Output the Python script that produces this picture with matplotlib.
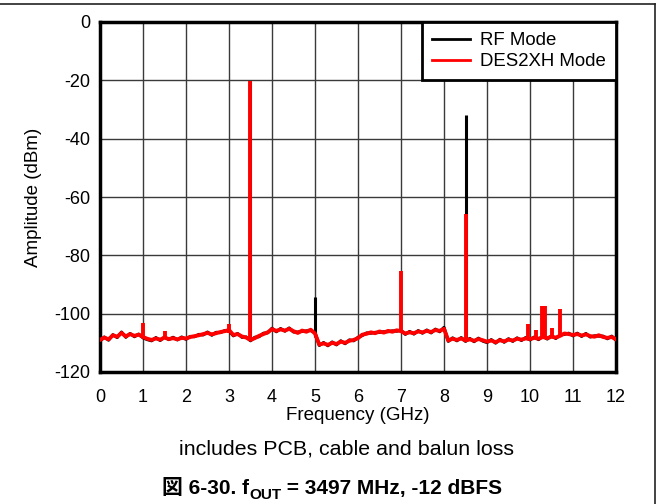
import numpy as np
import matplotlib
matplotlib.use("Agg")
import matplotlib.pyplot as plt
from matplotlib.lines import Line2D

plt.rcParams['font.family'] = ['Liberation Sans', 'Noto Sans CJK JP', 'DejaVu Sans']
plt.rcParams['axes.unicode_minus'] = False

# ---- data ----
freq_noise = np.linspace(0, 12, 121)  # GHz, 0.1 GHz steps

des2xh_noise = [
    -109.0, -108.2, -108.8, -107.4, -107.9, -106.6, -107.8, -107.0, -107.6, -107.2,
    -108.0, -108.6, -109.0, -108.5, -108.9, -108.2, -108.7, -108.4, -108.8, -108.3,
    -108.5, -108.0, -107.7, -107.4, -107.0, -106.6, -107.1, -106.7, -106.3, -106.0,
    -105.6, -107.3, -107.0, -107.8, -108.2, -109.0, -108.4, -107.6, -107.0, -106.4,
    -105.3, -105.9, -105.4, -105.8, -105.2, -106.0, -106.6, -105.8, -106.2, -105.5,
    -106.8, -110.6, -110.2, -110.7, -110.0, -110.4, -109.6, -110.0, -109.3, -109.0,
    -108.4, -107.2, -106.9, -106.4, -106.7, -106.1, -106.5, -105.9, -106.2, -105.7,
    -106.0, -106.8, -106.4, -106.7, -106.1, -106.4, -105.9, -106.3, -105.6, -105.9,
    -105.2, -109.2, -108.6, -109.0, -108.5, -109.2, -108.8, -109.3, -108.7, -109.1,
    -109.6, -109.2, -109.8, -109.1, -109.5, -108.9, -109.2, -108.6, -108.9, -108.5,
    -108.7, -108.3, -108.6, -108.0, -108.4, -107.9, -108.2, -107.6, -106.8, -107.0,
    -107.3, -107.0, -107.5, -107.1, -107.7, -107.9, -107.4, -108.0, -108.3, -108.0,
    -108.8,
]

rf_noise = [
    -109.4, -108.0, -109.1, -107.2, -108.2, -106.3, -108.1, -106.8, -107.9, -107.0,
    -108.3, -108.9, -109.3, -108.2, -109.2, -108.0, -108.9, -108.1, -109.0, -108.0,
    -108.8, -107.8, -107.9, -107.1, -107.3, -106.3, -107.4, -106.4, -106.5, -105.8,
    -105.9, -107.6, -106.8, -108.1, -108.0, -109.3, -108.1, -107.9, -106.7, -106.6,
    -105.0, -106.2, -105.1, -106.0, -104.9, -106.3, -106.3, -106.1, -105.9, -105.8,
    -106.5, -110.9, -109.9, -111.0, -109.7, -110.7, -109.3, -110.3, -109.0, -109.3,
    -108.1, -107.5, -106.6, -106.7, -106.4, -106.4, -106.2, -106.2, -105.9, -106.0,
    -105.7, -107.1, -106.1, -107.0, -105.8, -106.7, -105.6, -106.6, -105.3, -106.2,
    -104.7, -109.5, -108.3, -109.3, -108.2, -109.5, -108.5, -109.6, -108.4, -109.4,
    -109.9, -108.9, -110.1, -108.8, -109.8, -108.6, -109.5, -108.3, -109.2, -108.2,
    -109.0, -108.0, -108.9, -107.7, -108.7, -107.6, -108.5, -107.3, -107.1, -106.7,
    -107.6, -106.7, -107.8, -106.8, -108.0, -107.6, -107.7, -107.7, -108.6, -107.7,
    -109.1,
]

# spurs / tones (frequency GHz, top dBm, floor dBm)
des2xh_spur_freq = [1.0, 1.5, 3.0, 3.497, 7.0, 8.5, 9.95, 10.15, 10.27, 10.35, 10.52, 10.7]
des2xh_spur_top = [-103.3, -106.0, -103.5, -20.2, -85.4, -65.9, -103.7, -105.6, -97.2, -97.5, -105.0, -98.4]
des2xh_spur_base = [-108.0, -108.2, -106.5, -109.0, -106.0, -109.0, -108.6, -108.4, -108.2, -108.1, -107.9, -107.6]

rf_spur_freq = [3.497, 5.01, 8.52]
rf_spur_top = [-20.2, -94.3, -31.9]
rf_spur_base = [-109.0, -108.0, -109.0]

# ---- figure ----
fig = plt.figure(figsize=(6.6, 5.04), dpi=100)
ax = fig.add_axes([100/660, 1 - 372/504, 516/660, 350/504])

black_lw = 2.2
red_lw = 2.8
ax.plot(freq_noise, rf_noise, color='black', lw=black_lw, label='RF Mode', zorder=3)
ax.vlines(rf_spur_freq, rf_spur_base, rf_spur_top, color='black', lw=black_lw, zorder=3)
ax.plot(freq_noise, des2xh_noise, color='#ff0000', lw=red_lw, label='DES2XH Mode', zorder=4)
ax.vlines(des2xh_spur_freq, des2xh_spur_base, des2xh_spur_top, color='#ff0000', lw=red_lw, zorder=4)

ax.set_xlim(0, 12)
ax.set_ylim(-120, 0)
ax.set_xticks(range(0, 13))
ax.set_yticks(range(-120, 1, 20))
ax.grid(True, color='#3a3a3a', lw=1.0)
ax.tick_params(axis='both', length=0, labelsize=13)
ax.tick_params(axis='x', pad=12)
ax.tick_params(axis='y', pad=7)
for s in ax.spines.values():
    s.set_linewidth(2.5)
    s.set_color('black')

ax.set_xlabel('Frequency (GHz)', fontsize=13.5, labelpad=1)
ax.set_ylabel('Amplitude (dBm)', fontsize=13.5, labelpad=9)

leg = ax.legend(loc='upper right', borderaxespad=0, fontsize=13.4, fancybox=False,
                framealpha=1, edgecolor='black', handlelength=2.0,
                handletextpad=0.55, borderpad=0.55, labelspacing=0.2)
leg.get_frame().set_linewidth(2.0)
leg.set_zorder(10)
for h in leg.get_lines():
    h.set_linewidth(2.0)

fig.text(346/660, 1 - 449/504, 'includes PCB, cable and balun loss', ha='center', va='center', fontsize=15.4)

# title built from pieces so the CJK glyph and subscript both render
title_y = 1 - 494/504
t1 = fig.text(162/660, title_y, '図 6-30. f', ha='left', va='baseline',
              fontsize=15, fontweight='bold')
t2 = fig.text(0, 0, 'OUT', fontsize=11, fontweight='bold', ha='left', va='baseline')
fig.canvas.draw()
r = fig.canvas.get_renderer()
bb1 = t1.get_window_extent(r)
fw, fh = fig.bbox.width, fig.bbox.height
t2.set_position((bb1.x1 / fw, title_y - 5 / fh))
fig.canvas.draw()
bb2 = t2.get_window_extent(r)
fig.text(bb2.x1 / fw, title_y, ' = 3497 MHz, -12 dBFS', ha='left', va='baseline',
         fontsize=15, fontweight='bold')

# outer frame lines (top and right)
fig.add_artist(Line2D([0, 655/660], [1 - 4/504, 1 - 4/504], transform=fig.transFigure, color='#222222', lw=1.2))
fig.add_artist(Line2D([655/660, 655/660], [1 - 4/504, 0], transform=fig.transFigure, color='#222222', lw=1.2))

fig.savefig('out.png', dpi=100)
